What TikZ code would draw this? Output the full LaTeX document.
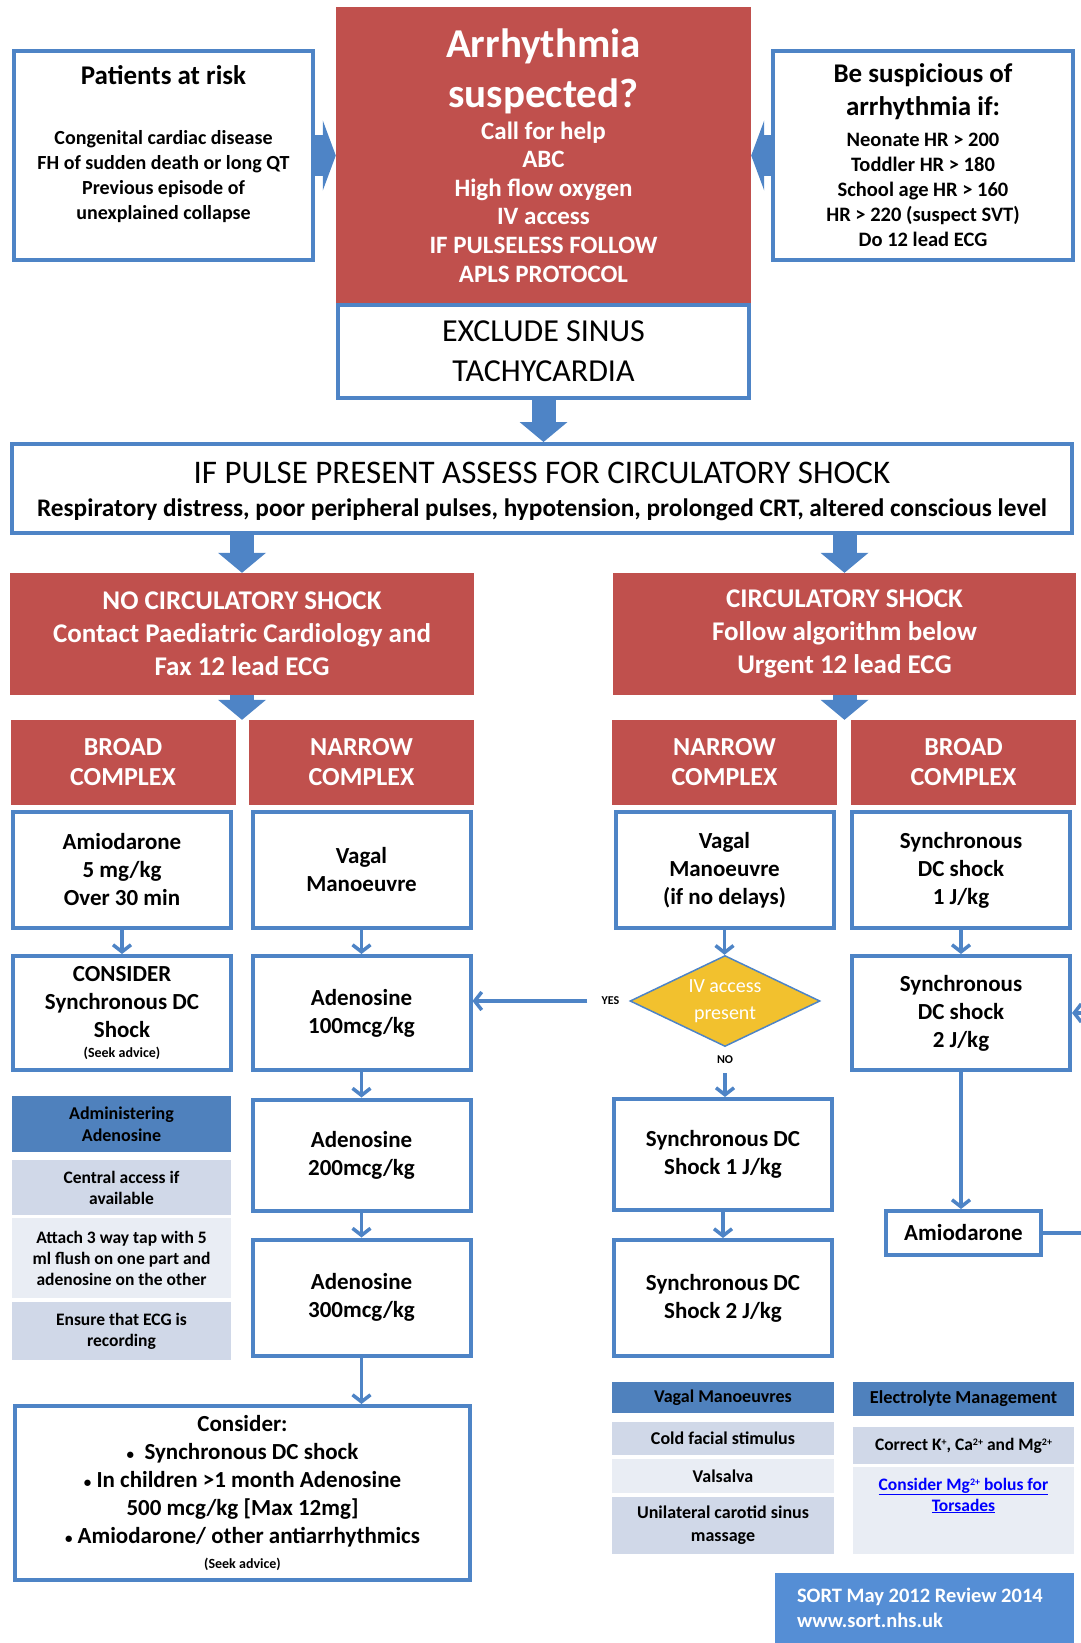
\documentclass[tikz,border=0pt]{standalone}
\usepackage{fontspec}
\setmainfont{Carlito}
\usetikzlibrary{arrows.meta,shapes.geometric}
\definecolor{boxblue}{RGB}{78,132,198}
\definecolor{alarmred}{RGB}{192,80,77}
\definecolor{ivyellow}{RGB}{242,193,46}
\definecolor{headblue}{RGB}{79,129,189}
\definecolor{rowdark}{RGB}{208,216,232}
\definecolor{rowlight}{RGB}{233,237,244}
\definecolor{sortblue}{RGB}{85,142,213}
\definecolor{linkblue}{RGB}{0,0,255}
\newcommand{\fsz}[2]{\fontsize{#1}{#2}\selectfont}
\newcommand{\ionsup}[1]{\raisebox{0.6ex}{\fsz{10}{10}#1}}
\newcommand{\smallbul}{{\fsz{15}{15}\textbullet}}

\begin{document}
\begin{tikzpicture}[x=1pt,y=1pt,yscale=-1,
	bluebox/.style={draw=boxblue,line width=4pt,fill=white,align=flush center,inner sep=0pt,font=\fsz{23}{28}\bfseries},
	redbox/.style={fill=alarmred,text=white,align=flush center,inner sep=0pt,font=\bfseries},
	subhead/.style={redbox,minimum width=225pt,minimum height=85pt,text width=215pt,font=\fsz{26}{30}\bfseries},
	cell/.style={bluebox,minimum width=218pt,minimum height=116pt,text width=210pt},
	tabhead/.style={fill=headblue,inner sep=0pt,align=flush center,font=\fsz{18}{22}\bfseries},
	tabdark/.style={fill=rowdark,inner sep=0pt,align=flush center,font=\fsz{17.5}{21}\bfseries},
	tablight/.style={fill=rowlight,inner sep=0pt,align=flush center,font=\fsz{17.5}{21}\bfseries},
	blockarr/.style={draw=boxblue,line width=24pt,-{Triangle[width=48pt,length=20pt,line width=0pt]}},
	sidearr/.style={draw=boxblue,line width=40pt,-{Triangle[width=70pt,length=13pt,line width=0pt]}},
	conn/.style={draw=boxblue,line width=3.5pt,-{Straight Barb[length=7pt,width=18pt]}},
	lbl/.style={inner sep=0pt,font=\fsz{12}{14}\bfseries}]
	\useasboundingbox (0,0) rectangle (1080,1643);

	%Shape: Rectangle
	\node[redbox,minimum width=415pt,minimum height=296pt,text width=400pt] (alarm) at (543.5,155.5)
		{\fsz{41}{50}Arrhythmia\\suspected?\par\vspace{3pt}
		\fsz{25}{28.6}Call for help\\ABC\\High flow oxygen\\IV access\\IF PULSELESS FOLLOW\\APLS PROTOCOL\par};
	%Shape: Rectangle
	\node[bluebox,minimum width=411pt,minimum height=93pt,text width=400pt,font=\fsz{32}{40}] (sinus) at (543.5,351.5) {EXCLUDE SINUS\\TACHYCARDIA};
	%Shape: Rectangle
	\node[bluebox,minimum width=299pt,minimum height=209pt] (risk) at (163.5,155.5)
		{\parbox[c][180pt][t]{290pt}{\centering
		\fsz{27}{33}Patients at risk\par\vspace{35pt}
		\fsz{20}{25}Congenital cardiac disease\\FH of sudden death or long QT\\Previous episode of\\unexplained collapse\par}};
	%Shape: Rectangle
	\node[bluebox,minimum width=300pt,minimum height=208pt,text width=290pt] (suspect) at (923,155.5)
		{\fsz{27}{33}Be suspicious of\\arrhythmia if:\par\vspace{6pt}
		\fsz{20.5}{25}Neonate HR > 200\\Toddler HR > 180\\School age HR > 160\\HR > 220 (suspect SVT)\\Do 12 lead ECG\par};

	%Shape: Rectangle
	\node[bluebox,minimum width=1060pt,minimum height=89pt] (assess) at (542,488.5)
		{\parbox[c][52pt][t]{1055pt}{\centering
		\fsz{33}{36}\mdseries IF PULSE PRESENT ASSESS FOR CIRCULATORY SHOCK\par
		\fsz{25.3}{33}\bfseries Respiratory distress, poor peripheral pulses, hypotension, prolonged CRT, altered conscious level\par}};

	%Shape: Rectangle
	\node[redbox,minimum width=464pt,minimum height=122pt,text width=450pt,font=\fsz{27}{33}\bfseries] (nocirc) at (242,634) {NO CIRCULATORY SHOCK\\Contact Paediatric Cardiology and\\Fax 12 lead ECG};
	\node[redbox,minimum width=463pt,minimum height=122pt,text width=450pt,font=\fsz{27}{33}\bfseries] (circ) at (844.5,634) {CIRCULATORY SHOCK\\Follow algorithm below\\Urgent 12 lead ECG};

	%Shape: Rectangle
	\node[subhead] (broadL) at (123,762.5) {BROAD\\COMPLEX};
	\node[subhead] (narrowL) at (361.5,762.5) {NARROW\\COMPLEX};
	\node[subhead] (narrowR) at (724.5,762.5) {NARROW\\COMPLEX};
	\node[subhead] (broadR) at (963.5,762.5) {BROAD\\COMPLEX};

	%Shape: Rectangle
	\node[cell] (amio) at (122,870) {Amiodarone\\5 mg/kg\\Over 30 min};
	\node[cell] (vagalL) at (361.5,870) {Vagal\\Manoeuvre};
	\node[cell] (vagalR) at (724.5,870) {Vagal\\Manoeuvre\\(if no delays)};
	\node[cell] (sync1R) at (961,870) {Synchronous\\DC shock\\1 J/kg};

	\node[cell,minimum height=114pt] (consid) at (122,1013) {CONSIDER\\Synchronous DC\\Shock\par\fsz{14}{20.5}(Seek advice)\par};
	\node[cell,minimum height=114pt] (aden1) at (361.5,1013) {Adenosine\\100mcg/kg};
	\node[cell,minimum height=114pt] (sync2R) at (961,1013) {Synchronous\\DC shock\\2 J/kg};

	%Shape: Diamond
	\node[diamond,aspect=2.1,draw=boxblue,line width=1.5pt,fill=ivyellow,text=white,inner sep=0pt,minimum width=190pt,minimum height=91pt,align=center,font=\fsz{20}{27}] (ivq) at (725,1001) {IV access\\present};

	\node[cell,minimum height=111pt] (aden2) at (361.5,1155) {Adenosine\\200mcg/kg};
	\node[cell,minimum height=111pt] (sync1M) at (723,1154.5) {Synchronous DC\\Shock 1 J/kg};
	\node[cell,minimum height=116pt] (aden3) at (361.5,1297.5) {Adenosine\\300mcg/kg};
	\node[cell,minimum height=116pt] (sync2M) at (723,1298) {Synchronous DC\\Shock 2 J/kg};
	\node[bluebox,minimum width=155pt,minimum height=44pt] (amio2) at (963.5,1233) {Amiodarone};

	\node[bluebox,minimum width=455pt,minimum height=174pt,text width=440pt] (further) at (242.5,1493)
		{Consider:\\\smallbul\ \ Synchronous DC shock\\\smallbul\ In children >1 month Adenosine\\500 mcg/kg [Max 12mg]\\\smallbul\ Amiodarone/ other antiarrhythmics\par
		\fsz{14}{25.5}(Seek advice)\par};

	% Text Node
	\node[tabhead,minimum width=219pt,minimum height=56pt] (admhead) at (121.5,1124) {Administering\\Adenosine};
	\node[tabdark,minimum width=219pt,minimum height=55pt] (admrow1) at (121.5,1187.5) {Central access if\\available};
	\node[tablight,minimum width=219pt,minimum height=80pt] (admrow2) at (121.5,1258) {Attach 3 way tap with 5\\ml flush on one part and\\adenosine on the other};
	\node[tabdark,minimum width=219pt,minimum height=58pt] (admrow3) at (121.5,1331) {Ensure that ECG is\\recording};

	% Text Node
	\node[tabhead,minimum width=222pt,minimum height=31pt,font=\fsz{18}{22}\bfseries] (vmhead) at (723,1397.5) {Vagal Manoeuvres};
	\node[tabdark,minimum width=222pt,minimum height=33pt,font=\fsz{18}{22}\bfseries] (vmrow1) at (723,1438.5) {Cold facial stimulus};
	\node[tablight,minimum width=222pt,minimum height=34pt,font=\fsz{18}{22}\bfseries] (vmrow2) at (723,1476) {Valsalva};
	\node[tabdark,minimum width=222pt,minimum height=57pt,font=\fsz{18}{23}\bfseries] (vmrow3) at (723,1525.5) {Unilateral carotid sinus\\massage};

	% Text Node
	\node[tabhead,minimum width=221pt,minimum height=34pt,font=\fsz{18.3}{22}\bfseries] (elhead) at (963.5,1399) {Electrolyte Management};
	\node[tabdark,minimum width=221pt,minimum height=37pt,font=\fsz{17.5}{22}\bfseries] (elrow1) at (963.5,1445.5) {Correct K\ionsup{+}, Ca\ionsup{2+} and Mg\ionsup{2+}};
	\node[tablight,minimum width=221pt,minimum height=87pt,text width=210pt,text=linkblue,font=\fsz{17.5}{21}\bfseries] (elrow2) at (963.5,1510.5)
		{\underline{Consider Mg\ionsup{2+} bolus for}\\\underline{Torsades}\par\vspace*{30pt}};

	% Text Node
	\node[fill=sortblue,text=white,minimum width=299pt,minimum height=70pt,text width=255pt,align=flush left,inner sep=0pt,font=\fsz{20.5}{25}\bfseries] (sort) at (924.5,1608) {SORT May 2012 Review 2014\\www.sort.nhs.uk};

	%Straight Lines
	\draw[sidearr] (risk) -- (alarm);
	\draw[sidearr] (suspect) -- (alarm);
	\draw[blockarr] (sinus.south) -- (sinus.south |- assess.north);
	\draw[blockarr] (nocirc.north |- assess.south) -- (nocirc.north);
	\draw[blockarr] (circ.north |- assess.south) -- (circ.north);
	\draw[blockarr] (nocirc.south) -- (nocirc.south |- broadL.north);
	\draw[blockarr] (circ.south) -- (circ.south |- broadR.north);

	%Straight Lines
	\draw[conn] (amio) -- (consid);
	\draw[conn] (vagalL) -- (aden1);
	\draw[conn] (aden1) -- (aden2);
	\draw[conn] (aden2) -- (aden3);
	\draw[conn] (aden3.south) -- (aden3.south |- further.north);
	\draw[conn] (vagalR.south) -- (vagalR.south |- ivq.north);
	\draw[conn,shorten <=42pt] (ivq.west) -- node[pos=0.12,lbl]{YES} (ivq.west -| aden1.east);
	\draw[conn,shorten <=26pt] (ivq.south) -- node[pos=0.25,lbl]{NO} (ivq.south |- sync1M.north);
	\draw[conn] (sync1M) -- (sync2M);
	\draw[conn] (sync1R) -- (sync2R);
	\draw[conn] (sync2R.south) -- (sync2R.south |- amio2.north);
	\draw[conn] (amio2.east) -- ++(60,0) |- (sync2R.east);

\end{tikzpicture}
\end{document}
